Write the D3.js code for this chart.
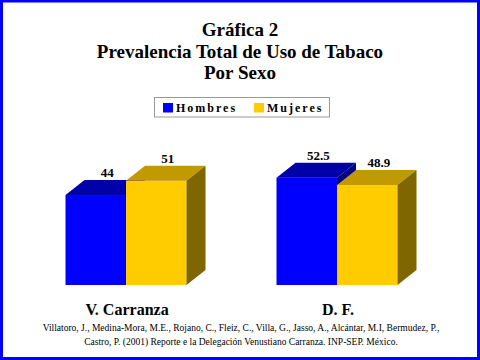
<html>
<head>
    <style>
        body { margin: 0; background: #fff; }
        svg text { font-family: "Liberation Serif", "Times New Roman", serif; }
    </style>
</head>
<body>
    <div id="chart"></div>
    <script src="https://d3js.org/d3.v7.min.js"></script>
    <script type="text/javascript">
        // chart data
        const categories = ['V. Carranza', 'D. F.'];
        const seriesNames = ['Hombres', 'Mujeres'];
        const hombres = [44, 52.5];
        const mujeres = [51, 48.9];
        const valueLabels = [['44', '51'], ['52.5', '48.9']];
        const titleLines = ['Gráfica 2', 'Prevalencia Total de Uso de Tabaco', 'Por Sexo'];
        const footLines = [
            'Villatoro, J., Medina-Mora, M.E., Rojano, C., Fleiz, C., Villa, G., Jasso, A., Alcántar, M.I, Bermudez, P.,',
            'Castro, P. (2001) Reporte e la Delegación Venustiano Carranza. INP-SEP. México.'
        ];

        const W = 480, H = 360;
        const colors = {
            Hombres: { front: '#0000ff', top: '#0000a8', side: '#000080' },
            Mujeres: { front: '#ffcc00', top: '#c09a00', side: '#806600' }
        };
        const depthX = 19, depthY = 15;

        const svg = d3.select('#chart').append('svg')
            .attr('width', W).attr('height', H);

        // blue frame
        svg.append('rect')
            .attr('x', 1.5).attr('y', 1).attr('width', 477).attr('height', 357.5)
            .attr('fill', 'none').attr('stroke', '#0000ff').attr('stroke-width', 3);

        // title
        svg.selectAll('.title').data(titleLines).enter().append('text')
            .attr('class', 'title')
            .attr('x', 240).attr('y', (d, i) => 36 + i * 21.5)
            .attr('text-anchor', 'middle')
            .style('font-size', '19px').style('font-weight', 'bold')
            .text(d => d);

        // legend
        const legend = svg.append('g');
        legend.append('rect')
            .attr('x', 154.5).attr('y', 97.5).attr('width', 175).attr('height', 19.5)
            .attr('fill', '#fff').attr('stroke', '#999').attr('stroke-width', 1);
        const legendX = [163, 254];
        seriesNames.forEach((s, i) => {
            legend.append('rect')
                .attr('x', legendX[i]).attr('y', 103).attr('width', 10).attr('height', 9.5)
                .attr('fill', colors[s].front);
            legend.append('text')
                .attr('x', legendX[i] + 13).attr('y', 112.3)
                .style('font-size', '12px').style('font-weight', 'bold')
                .style('letter-spacing', '2px')
                .text(s);
        });

        // scales
        const x0 = d3.scaleBand().domain(categories).range([20.5, 442.5]);
        const x1 = d3.scaleBand().domain(seriesNames).range([-60.5, 60.5]);
        const y = d3.scaleLinear().domain([0, 55]).range([285, 285 - 55 * 2.045]);

        const data = categories.map((c, i) => ({
            cat: c,
            bars: [
                { s: 'Hombres', v: hombres[i], label: valueLabels[i][0] },
                { s: 'Mujeres', v: mujeres[i], label: valueLabels[i][1] }
            ]
        }));

        const groups = svg.selectAll('.grp').data(data).enter().append('g')
            .attr('class', 'grp')
            .attr('transform', d => `translate(${x0(d.cat) + x0.bandwidth() / 2},0)`);

        groups.each(function (d) {
            const g = d3.select(this);
            d.bars.forEach(b => {
                const xl = x1(b.s), xr = xl + x1.bandwidth();
                const yt = y(b.v), yb = y(0);
                const c = colors[b.s];
                // front face
                g.append('rect')
                    .attr('x', xl).attr('y', yt).attr('width', xr - xl).attr('height', yb - yt)
                    .attr('fill', c.front);
                // top face
                g.append('path')
                    .attr('d', `M${xl},${yt}L${xl + depthX},${yt - depthY}L${xr + depthX},${yt - depthY}L${xr},${yt}Z`)
                    .attr('fill', c.top);
                // side face
                g.append('path')
                    .attr('d', `M${xr},${yt}L${xr + depthX},${yt - depthY}L${xr + depthX},${yb - depthY}L${xr},${yb}Z`)
                    .attr('fill', c.side);
            });
            // value labels on top
            d.bars.forEach(b => {
                const xl = x1(b.s);
                g.append('text')
                    .attr('x', xl + x1.bandwidth() / 2 + depthX / 2 + 2)
                    .attr('y', y(b.v) - depthY - 3)
                    .attr('text-anchor', 'middle')
                    .style('font-size', '13px').style('font-weight', 'bold')
                    .text(b.label);
            });
        });

        // category labels
        svg.selectAll('.cat').data(categories).enter().append('text')
            .attr('class', 'cat')
            .attr('x', d => x0(d) + x0.bandwidth() / 2 + 1)
            .attr('y', 315)
            .attr('text-anchor', 'middle')
            .style('font-size', '16px').style('font-weight', 'bold')
            .text(d => d);

        // source note
        svg.selectAll('.foot').data(footLines).enter().append('text')
            .attr('class', 'foot')
            .attr('x', 241).attr('y', (d, i) => 331 + i * 14)
            .attr('text-anchor', 'middle')
            .style('font-size', '9.5px')
            .text(d => d);
    </script>
</body>
</html>
